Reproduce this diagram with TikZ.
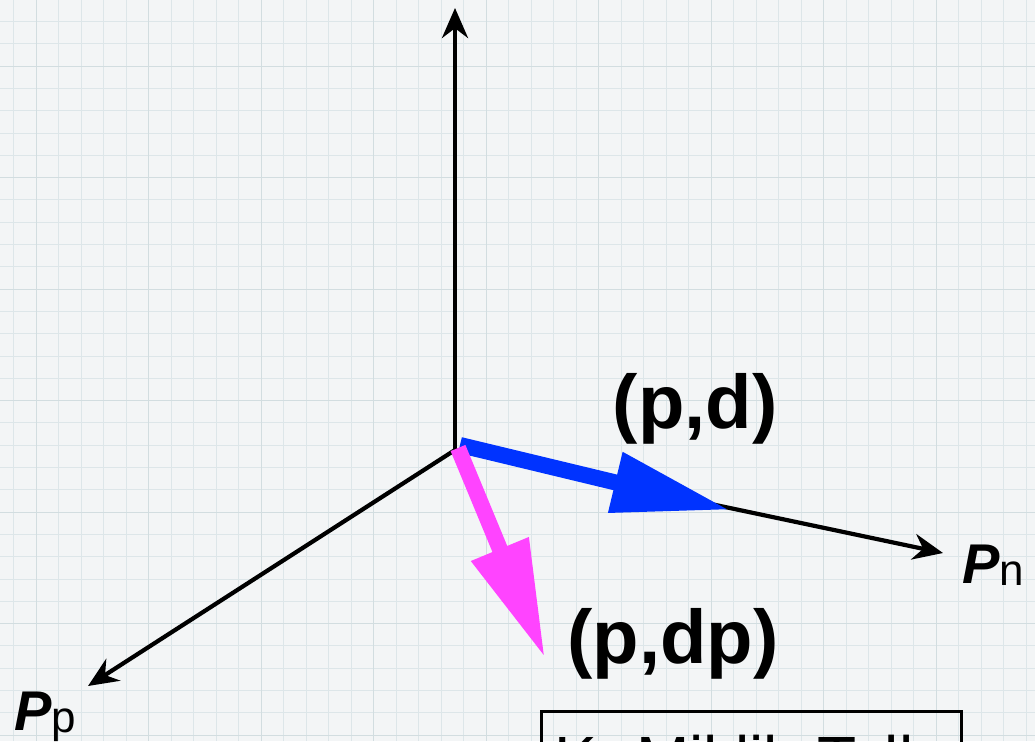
\documentclass[tikz,border=0pt]{standalone}
\usepackage{fontspec}
\setmainfont{Liberation Sans}
\usetikzlibrary{arrows.meta,positioning}
\definecolor{paper}{HTML}{F3F5F6}
\definecolor{gridline}{HTML}{DDE6E9}
\definecolor{gridmajor}{HTML}{D2DDE0}
\definecolor{pdblue}{HTML}{0033FF}
\definecolor{dpmagenta}{HTML}{FF44FF}

\begin{document}
\begin{tikzpicture}[x=1pt,y=-1pt,>={Stealth[length=30pt,width=26pt]},
  axis/.style={->,line width=4.2pt},
  vec/.style={line width=16pt,-{Triangle[length=118pt,width=58pt]}},
  lbl/.style={font=\fontsize{76}{76}\selectfont\bfseries,inner sep=0pt},
  axlbl/.style={font=\fontsize{56}{56}\selectfont,inner sep=0pt,anchor=base west}]
\useasboundingbox (0,0) rectangle (1035,741);
\clip (0,0) rectangle (1035,741);
\fill[paper] (0,0) rectangle (1035,741);
\foreach \i in {0,...,45} { \draw[gridline,line width=0.9pt] ({13.5+22.5*\i},0) -- ++(0,741); }
\foreach \j in {0,...,32} { \draw[gridline,line width=0.9pt] (0,{21.5+22.3*\j}) -- ++(1035,0); }
\foreach \i in {1,6,...,45} { \draw[gridmajor,line width=1pt] ({13.5+22.5*\i},0) -- ++(0,741); }
\foreach \j in {2,7,...,32} { \draw[gridmajor,line width=1pt] (0,{21.5+22.3*\j}) -- ++(1035,0); }

\coordinate (o) at (455,450);
\coordinate (up) at (455,8);
\coordinate (pn) at (943,553);
\coordinate (pp) at (88,686);
\coordinate (blue0) at (460,445);
\coordinate (pd) at (730,510);
\coordinate (mag0) at (458,448);
\coordinate (pdp) at (545,658);

\draw[axis] (o) -- (up);
\draw[axis] (o) -- (pn);
\draw[axis] (o) -- (pp);
\draw[vec,pdblue] (blue0) -- (pd);
\draw[vec,dpmagenta] (mag0) -- (pdp);

\node[lbl] (pdlabel) at (695,409) {(p,d)};
\node[lbl] (pdplabel) at (673,644) {(p,dp)};
\node[axlbl] (pnlabel) at (962,583) {\textbf{\textit{P}}\fontsize{44}{44}\selectfont\raisebox{-2pt}{n}};
\node[axlbl] (pplabel) at (14,730) {\textbf{\textit{P}}\fontsize{44}{44}\selectfont\raisebox{-2pt}{p}};

\node[draw,line width=2.5pt,anchor=north west,inner xsep=13pt,inner ysep=24pt,
  text width=394pt,align=left,font=\fontsize{64}{64}\selectfont] (ref) at (540,710) {K. Miklik Tell};
\end{tikzpicture}
\end{document}
